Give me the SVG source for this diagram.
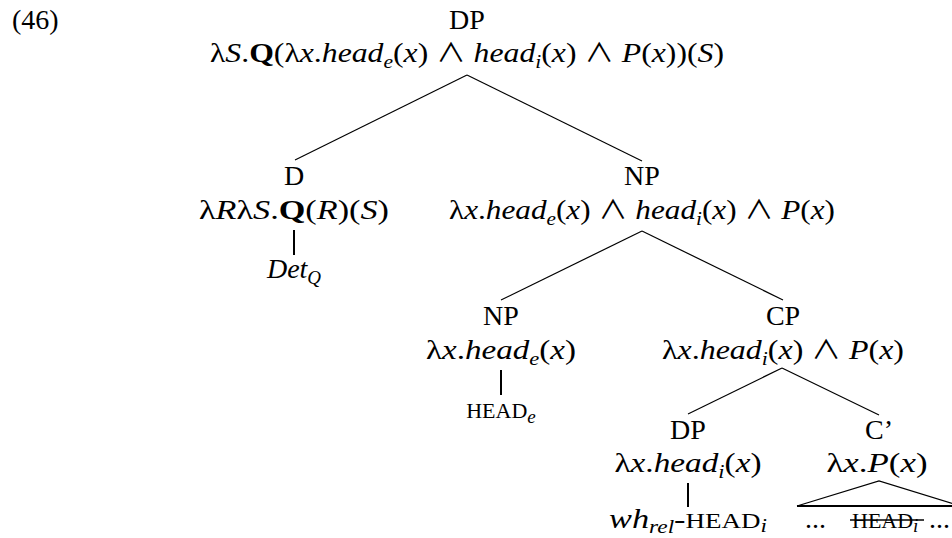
<svg xmlns="http://www.w3.org/2000/svg" width="952" height="538" viewBox="0 0 952 538">
<style>
text{font-family:"Liberation Serif","DejaVu Serif",serif;font-size:28px;fill:#000}
.i{font-style:italic}
.b{font-weight:bold}
.sub{font-size:19px;font-style:italic}
.sc{font-size:22px}
.w{font-family:"Noto Sans CJK JP",sans-serif;font-size:26px}
.c{text-anchor:middle}
.br{stroke:#000;stroke-width:1.2;fill:none}
.un{stroke:#000;stroke-width:2;fill:none}
</style>
<rect width="952" height="538" fill="#fff"/>
<text x="12" y="29">(46)</text>
<g id="connectors">
<line class="br" x1="467" y1="75" x2="295" y2="160"/>
<line class="br" x1="467" y1="75" x2="642" y2="161"/>
<line class="un" x1="294" y1="230" x2="294" y2="255"/>
<line class="br" x1="642" y1="231" x2="501" y2="300"/>
<line class="br" x1="642" y1="231" x2="783" y2="300"/>
<line class="un" x1="501" y1="370" x2="501" y2="395"/>
<line class="br" x1="782" y1="368" x2="688" y2="414"/>
<line class="br" x1="782" y1="368" x2="879" y2="415"/>
<line class="un" x1="688" y1="483" x2="688" y2="507"/>
</g>
<g id="node-dp-root">
<text class="c" x="467" y="29">DP</text>
<text class="c" x="467" y="62" textLength="514" lengthAdjust="spacingAndGlyphs">λ<tspan class="i">S</tspan>.<tspan class="b">Q</tspan>(λ<tspan class="i">x</tspan>.<tspan class="i">head</tspan><tspan class="sub" dy="6">e</tspan><tspan dy="-6">(</tspan><tspan class="i">x</tspan>) <tspan class="w">∧</tspan> <tspan class="i">head</tspan><tspan class="sub" dy="6">i</tspan><tspan dy="-6">(</tspan><tspan class="i">x</tspan>) <tspan class="w">∧</tspan> <tspan class="i">P</tspan>(<tspan class="i">x</tspan>))(<tspan class="i">S</tspan>)</text>
</g>
<g id="node-d">
<text class="c" x="294" y="185">D</text>
<text class="c" x="294" y="219" textLength="190" lengthAdjust="spacingAndGlyphs">λ<tspan class="i">R</tspan>λ<tspan class="i">S</tspan>.<tspan class="b">Q</tspan>(<tspan class="i">R</tspan>)(<tspan class="i">S</tspan>)</text>
</g>
<g id="node-detq">
<text class="c" x="294" y="278"><tspan class="i">Det</tspan><tspan class="sub" dy="6">Q</tspan></text>
</g>
<g id="node-np1">
<text class="c" x="642" y="185">NP</text>
<text class="c" x="642" y="219" textLength="386" lengthAdjust="spacingAndGlyphs">λ<tspan class="i">x</tspan>.<tspan class="i">head</tspan><tspan class="sub" dy="6">e</tspan><tspan dy="-6">(</tspan><tspan class="i">x</tspan>) <tspan class="w">∧</tspan> <tspan class="i">head</tspan><tspan class="sub" dy="6">i</tspan><tspan dy="-6">(</tspan><tspan class="i">x</tspan>) <tspan class="w">∧</tspan> <tspan class="i">P</tspan>(<tspan class="i">x</tspan>)</text>
</g>
<g id="node-np2">
<text class="c" x="501" y="325">NP</text>
<text class="c" x="501" y="359" textLength="150" lengthAdjust="spacingAndGlyphs">λ<tspan class="i">x</tspan>.<tspan class="i">head</tspan><tspan class="sub" dy="6">e</tspan><tspan dy="-6">(</tspan><tspan class="i">x</tspan>)</text>
</g>
<g id="node-head-e">
<text class="c" x="501" y="418"><tspan class="sc">HEAD</tspan><tspan class="sub" dy="5">e</tspan></text>
</g>
<g id="node-cp">
<text class="c" x="783" y="325">CP</text>
<text class="c" x="783" y="359" textLength="242" lengthAdjust="spacingAndGlyphs">λ<tspan class="i">x</tspan>.<tspan class="i">head</tspan><tspan class="sub" dy="6">i</tspan><tspan dy="-6">(</tspan><tspan class="i">x</tspan>) <tspan class="w">∧</tspan> <tspan class="i">P</tspan>(<tspan class="i">x</tspan>)</text>
</g>
<g id="node-dp2">
<text class="c" x="688" y="439">DP</text>
<text class="c" x="688" y="472" textLength="147" lengthAdjust="spacingAndGlyphs">λ<tspan class="i">x</tspan>.<tspan class="i">head</tspan><tspan class="sub" dy="6">i</tspan><tspan dy="-6">(</tspan><tspan class="i">x</tspan>)</text>
</g>
<g id="node-whrel">
<text class="c" x="688" y="528" textLength="158" lengthAdjust="spacingAndGlyphs"><tspan class="i">wh</tspan><tspan class="sub" dy="5">rel</tspan><tspan dy="-5">-</tspan><tspan class="sc">HEAD</tspan><tspan class="sub" dy="4">i</tspan></text>
</g>
<g id="node-cbar">
<text class="c" x="879" y="439">C’</text>
<text class="c" x="877" y="472" textLength="101" lengthAdjust="spacingAndGlyphs">λ<tspan class="i">x</tspan>.<tspan class="i">P</tspan>(<tspan class="i">x</tspan>)</text>
</g>
<g id="node-triangle">
<polyline class="br" points="797,506 879,481 961,506"/>
<line class="un" x1="797" y1="506" x2="961" y2="506"/>
<text x="805" y="528">...</text>
<text x="852" y="528"><tspan class="sc">HEAD</tspan><tspan class="sub" dy="4">i</tspan></text>
<line stroke="#000" stroke-width="1.5" x1="850" y1="520" x2="924" y2="520"/>
<text x="929" y="528">...</text>
</g>
</svg>
